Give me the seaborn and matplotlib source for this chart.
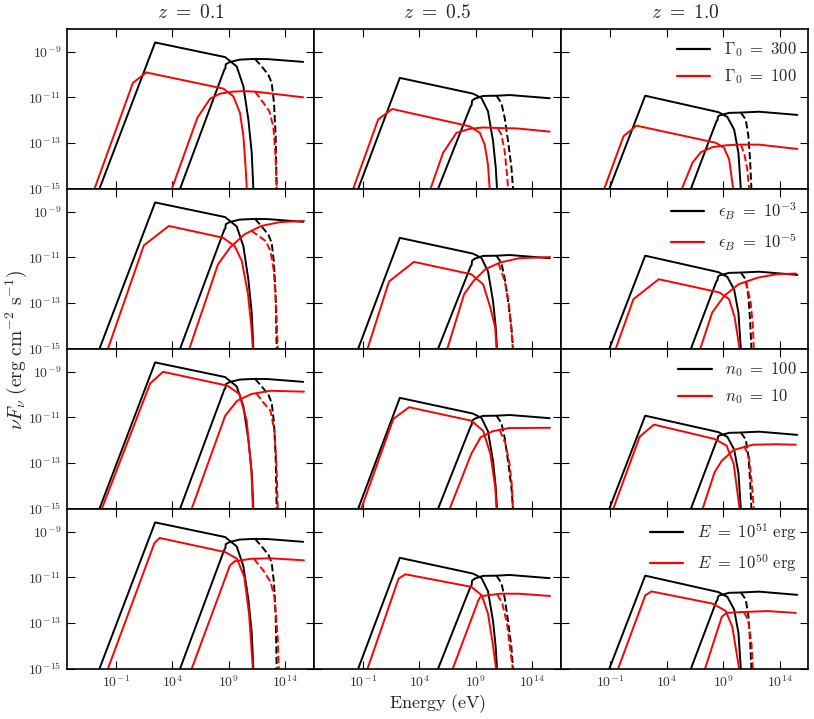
import matplotlib
matplotlib.use("Agg")
import matplotlib.pyplot as plt
import matplotlib.ticker as mticker
import numpy as np
import seaborn as sns

sns.set_style("ticks", {"xtick.direction": "in", "ytick.direction": "in"})
plt.rcParams["mathtext.fontset"] = "cm"
plt.rcParams["font.family"] = ["DejaVu Serif"]
plt.rcParams["axes.linewidth"] = 1.2
plt.rcParams["axes.edgecolor"] = "black"

# column titles / legend labels
titles = [r"$z\ =\ 0.1$", r"$z\ =\ 0.5$", r"$z\ =\ 1.0$"]
black_labels = [r"$\Gamma_0\ =\ 300$", r"$\epsilon_B\ =\ 10^{-3}$", r"$n_0\ =\ 100$",
                r"$E\ =\ 10^{51}\ \mathrm{erg}$"]
red_labels = [r"$\Gamma_0\ =\ 100$", r"$\epsilon_B\ =\ 10^{-5}$", r"$n_0\ =\ 10$",
              r"$E\ =\ 10^{50}\ \mathrm{erg}$"]

# all values are log10(E/eV) and log10(nuF_nu)
# reference model (black), one per column (same in every row)
black_syn_x = [[-2.45, 2.48, 8.68, 9.71, 10.3, 10.74, 11.04, 11.18],
               [-1.43, 2.26, 8.75, 9.49, 10.07, 10.52, 10.76, 10.87],
               [-1.08, 2.10, 8.59, 9.38, 9.98, 10.36, 10.57]]
black_syn_y = [[-15, -8.60, -9.24, -9.65, -10.52, -11.97, -13.43, -15],
               [-15, -10.15, -10.84, -11.03, -11.61, -12.92, -14.08, -15],
               [-15, -10.93, -11.65, -11.86, -12.41, -13.43, -15]]
black_ssc_x = [[4.69, 8.61, 8.70, 8.74, 9.12, 10.0, 11.33, 12.5, 15.6],
               [5.65, 8.54, 8.62, 8.66, 8.9, 9.63, 10.82, 12.0, 15.54],
               [6.15, 8.41, 8.5, 8.55, 8.65, 9.54, 10.42, 12.19, 15.58]]
black_ssc_y = [[-15, -9.79, -9.74, -9.55, -9.45, -9.35, -9.32, -9.33, -9.45],
               [-15, -11.39, -11.35, -11.15, -11.06, -10.94, -10.93, -10.9, -11.04],
               [-15, -12.05, -12.0, -11.85, -11.8, -11.68, -11.67, -11.63, -11.77]]
black_abs_x = [[11.33, 11.92, 12.51, 12.81, 13.01, 13.16, 13.25],
               [10.82, 11.26, 11.55, 11.85, 12.15, 12.29],
               [10.57, 11.01, 11.24, 11.39, 11.51]]
black_abs_y = [[-9.32, -9.65, -10.01, -10.37, -11.24, -12.7, -15],
               [-10.93, -11.25, -11.9, -12.92, -14.08, -15],
               [-11.67, -11.97, -12.7, -13.72, -15]]

# varied parameter (red), rows x columns
red_syn_x = [
    [[-2.89, 0.51, 1.69, 8.53, 9.41, 10.0, 10.3, 10.51, 10.6],
     [-1.87, 0.34, 1.58, 8.46, 9.34, 9.78, 10.07, 10.22],
     [-1.53, 0.18, 1.33, 8.36, 9.09, 9.54, 9.89]],
    [[-1.70, 1.48, 3.69, 8.47, 9.53, 10.16, 10.71, 11.01, 11.14],
     [-0.60, 1.3, 3.51, 8.59, 9.64, 10.28, 10.71, 10.83],
     [-0.51, 1.06, 3.3, 8.68, 9.53, 10.03, 10.46]],
    [[-2.24, 2.04, 3.18, 8.9, 9.95, 10.59, 11.01, 11.14],
     [-1.16, 1.69, 3.08, 8.59, 9.64, 10.28, 10.71, 10.83],
     [-0.73, 1.61, 2.87, 8.25, 9.31, 9.94, 10.46]],
    [[-1.7, 2.42, 2.88, 8.69, 9.74, 10.38, 10.8, 11.14],
     [-0.6, 2.15, 2.75, 8.59, 9.52, 10.07, 10.49, 10.79],
     [-0.3, 2.11, 2.66, 8.04, 9.23, 9.82, 10.42]],
]
red_syn_y = [
    [[-15, -10.37, -9.91, -10.62, -10.96, -11.68, -12.7, -14.16, -15],
     [-15, -11.97, -11.51, -12.27, -12.55, -13.07, -13.94, -15],
     [-15, -12.7, -12.24, -12.99, -13.21, -13.72, -15]],
    [[-15, -10.48, -9.63, -10.14, -10.51, -11.16, -12.62, -14.07, -15],
     [-15, -12.06, -11.2, -11.74, -12.18, -13.2, -14.07, -15],
     [-15, -12.83, -11.96, -12.54, -12.83, -13.63, -15]],
    [[-15, -9.52, -9.01, -9.62, -9.98, -11.15, -13.33, -15],
     [-15, -11.07, -10.56, -11.15, -11.59, -12.6, -14.05, -15],
     [-15, -11.85, -11.32, -11.95, -12.24, -13.04, -15]],
    [[-15, -9.5, -9.28, -9.9, -10.19, -10.99, -12.59, -15],
     [-15, -11.06, -10.87, -11.42, -11.79, -12.59, -13.9, -15],
     [-15, -11.79, -11.62, -12.15, -12.47, -13.17, -15]],
]
red_ssc_x = [
    [[3.96, 6.22, 7.35, 8.23, 9.41, 10.3, 11.33, 15.6],
     [4.98, 6.09, 7.28, 8.46, 9.63, 10.82, 12.59, 15.54],
     [5.35, 6.29, 7.03, 8.06, 9.24, 10.42, 12.19, 15.58]],
    [[5.51, 8.05, 9.11, 10.38, 11.86, 13.55, 15.67],
     [6.47, 7.95, 8.8, 9.85, 11.13, 12.82, 15.57],
     [6.98, 8.04, 9.1, 10.37, 12.07, 13.76, 15.45]],
    [[5.72, 8.69, 9.74, 11.01, 12.7, 15.67],
     [6.68, 8.59, 9.43, 10.49, 11.98, 15.57],
     [7.19, 8.25, 8.89, 9.94, 11.64, 13.76, 15.45]],
    [[5.72, 9.11, 9.53, 11.01, 12.7, 15.67],
     [6.95, 9.22, 9.43, 11.13, 12.82, 15.57],
     [7.4, 8.89, 9.31, 10.79, 12.91, 15.45]],
]
red_ssc_y = [
    [[-15, -11.90, -11.06, -10.84, -10.75, -10.73, -10.75, -11.0],
     [-15, -13.43, -12.55, -12.38, -12.32, -12.34, -12.36, -12.5],
     [-15, -13.86, -13.4, -13.18, -13.1, -13.07, -13.07, -13.26]],
    [[-15, -11.31, -10.58, -10.0, -9.63, -9.46, -9.41],
     [-15, -12.62, -12.03, -11.52, -11.23, -11.04, -10.99],
     [-15, -13.41, -12.69, -12.18, -11.89, -11.74, -11.71]],
    [[-15, -10.93, -10.28, -9.98, -9.84, -9.88],
     [-15, -12.6, -11.87, -11.61, -11.47, -11.46],
     [-15, -13.4, -12.9, -12.43, -12.2, -12.18, -12.2]],
    [[-15, -10.48, -10.3, -10.19, -10.17, -10.26],
     [-15, -12.01, -11.83, -11.72, -11.72, -11.82],
     [-15, -12.73, -12.56, -12.52, -12.48, -12.56]],
]
red_abs_x = [
    [[11.33, 12.07, 12.6, 12.95, 13.13, 13.25],
     [10.96, 11.26, 11.55, 11.76, 11.85],
     [10.57, 10.86, 11.15, 11.3]],
    [[11.01, 12.28, 12.7, 13.0, 13.22, 13.34],
     [11.0, 11.55, 11.89, 12.1, 12.27],
     [11.0, 11.43, 11.64, 11.72]],
    [[11.44, 12.06, 12.7, 13.05, 13.25, 13.34],
     [11.1, 11.63, 11.98, 12.2, 12.27],
     [10.85, 11.3, 11.55, 11.72]],
    [[11.23, 12.06, 12.7, 13.05, 13.34, 13.43],
     [10.9, 11.34, 11.76, 12.05, 12.27],
     [10.85, 11.22, 11.51, 11.64]],
]
red_abs_y = [
    [[-10.75, -11.24, -11.61, -12.27, -13.43, -15],
     [-12.38, -12.63, -13.36, -14.38, -15],
     [-13.07, -13.43, -14.16, -15]],
    [[-9.84, -10.29, -10.72, -11.6, -13.34, -15],
     [-11.26, -12.03, -12.9, -13.9, -15],
     [-12.03, -12.91, -14.0, -15]],
    [[-9.95, -10.35, -10.71, -11.59, -13.3, -15],
     [-11.55, -12.17, -13.04, -14.05, -15],
     [-12.24, -12.75, -13.9, -15]],
    [[-10.19, -10.7, -11.2, -11.86, -13.6, -15],
     [-11.75, -12.15, -13.03, -14.2, -15],
     [-12.52, -12.88, -13.9, -15]],
]

xticks = [-1, 4, 9, 14]
yticks = [-15, -13, -11, -9]


def draw(ax, xs, ys, color, ls="-"):
    sns.lineplot(x=10 ** np.array(xs, float), y=10 ** np.array(ys, float), sort=False,
                 estimator=None, color=color, lw=1.4, ls=ls, ax=ax, legend=False)


fig, axes = plt.subplots(4, 3, sharex=True, sharey=True, figsize=(8.14, 7.19), dpi=100)
fig.subplots_adjust(left=0.082, right=0.993, top=0.96, bottom=0.07, wspace=0, hspace=0)

logfmt = mticker.FuncFormatter(lambda v, p: r"$10^{%d}$" % round(np.log10(v)))

for r in range(4):
    for c in range(3):
        ax = axes[r, c]
        draw(ax, black_syn_x[c], black_syn_y[c], "k")
        draw(ax, black_ssc_x[c], black_ssc_y[c], "k")
        draw(ax, black_abs_x[c], black_abs_y[c], "k", "--")
        draw(ax, red_syn_x[r][c], red_syn_y[r][c], "red")
        draw(ax, red_ssc_x[r][c], red_ssc_y[r][c], "red")
        draw(ax, red_abs_x[r][c], red_abs_y[r][c], "red", "--")
        ax.set(xscale="log", yscale="log")
        ax.set_xlim(10 ** -5.35, 10 ** 16.55)
        ax.set_ylim(1e-15, 1e-8)
        ax.set_xticks([10.0 ** t for t in xticks])
        ax.set_yticks([10.0 ** t for t in yticks])
        ax.xaxis.set_minor_locator(mticker.NullLocator())
        ax.yaxis.set_minor_locator(mticker.NullLocator())
        ax.xaxis.set_major_formatter(logfmt)
        ax.yaxis.set_major_formatter(logfmt)
        ax.tick_params(which="major", top=True, right=True, length=6, width=0.8,
                       labelsize=10, colors="k", labelcolor="#333333", pad=4)
        ax.set_xlabel("")
        ax.set_ylabel("")
        if r == 0:
            ax.set_title(titles[c], fontsize=14, pad=8)
        if c == 2:
            handles = [plt.Line2D([], [], color="k", lw=1.6),
                       plt.Line2D([], [], color="red", lw=1.6)]
            ax.legend(handles, [black_labels[r], red_labels[r]], loc="upper right",
                      frameon=False, fontsize=12, handlelength=2.0, labelspacing=0.5,
                      borderaxespad=0.3)

fig.text(0.537, 0.005, r"$\mathrm{Energy\ (eV)}$", ha="center", va="bottom", fontsize=13)
fig.text(0.02, 0.513, r"$\nu F_\nu\ (\mathrm{erg\ cm^{-2}\ s^{-1}})$", ha="center",
         va="center", rotation=90, fontsize=14)

fig.savefig("out.png", dpi=100)
